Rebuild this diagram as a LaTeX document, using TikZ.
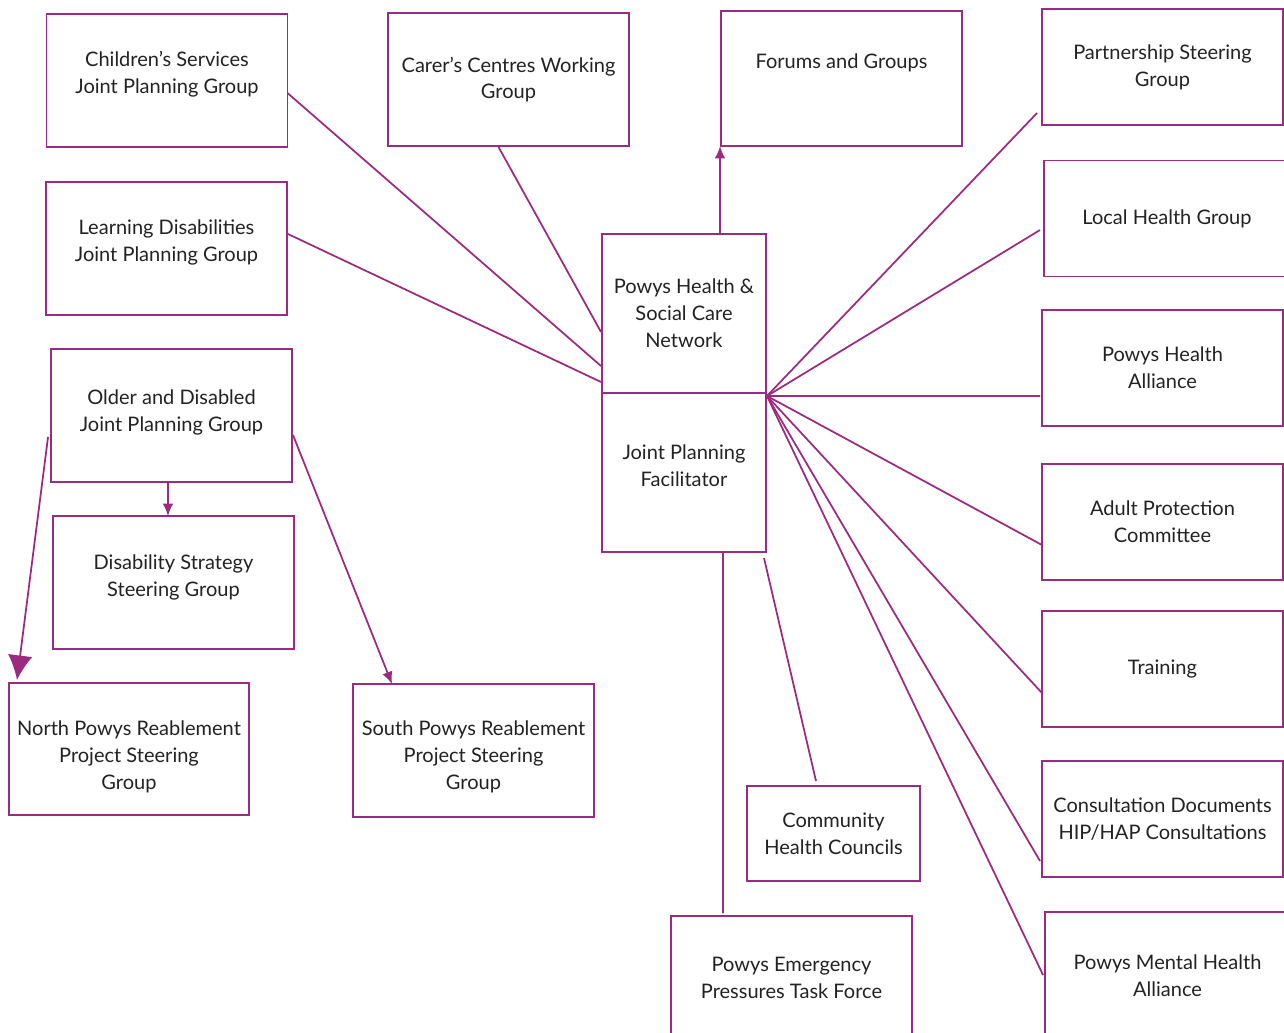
\documentclass[tikz,border=0pt]{standalone}
\usepackage{fontspec}
\setmainfont{Lato}
\usepackage{tikz}
\usetikzlibrary{arrows.meta,shapes,positioning,calc}

\definecolor{plum}{HTML}{9B2B80}
\definecolor{ink}{HTML}{222222}

\begin{document}
\begin{tikzpicture}[
        x=0.02cm, y=-0.02cm,
        every node/.style={font=\fontsize{11.4}{15.3}\selectfont, text=ink, align=center},
        box/.style={draw=plum, line width=1pt, inner sep=0pt, outer sep=0pt,
            minimum width=4.82cm, minimum height=2.66cm},
        sidebox/.style={box, minimum height=2.32cm},
        hubbox/.style={box, minimum width=3.28cm, minimum height=3.18cm},
        link/.style={draw=plum, line width=1pt},
        >={Latex[length=7pt,width=6pt]}
    ]
    \useasboundingbox (0,0) rectangle (1284,1032);

    % Nodes
    \node (child)[box, text depth=0.31cm] at (167,80.5) {Children's Services \\ Joint Planning Group};
    \node (carer)[box] at (508.5,79.5) {Carer's Centres Working \\ Group};
    \node (forum)[box, minimum height=2.7cm, text depth=0.69cm] at (841.5,78.5) {Forums and Groups};

    \node (learn)[box, text depth=0.31cm] at (166.5,248.5) {Learning Disabilities \\ Joint Planning Group};
    \node (older)[box, text depth=0.19cm] at (171.5,415.5) {Older and Disabled \\ Joint Planning Group};
    \node (disab)[box, text depth=0.27cm] at (173.5,582.5) {Disability Strategy \\ Steering Group};
    \node (north)[box, minimum width=4.8cm, minimum height=2.64cm, text height=1.69cm] at (129,749)
        {North Powys Reablement \\ Project Steering \\ Group};
    \node (south)[box, text height=1.61cm] at (473.5,750.5)
        {South Powys Reablement \\ Project Steering \\ Group};

    \node (net)[hubbox] at (684,313.5) {Powys Health \& \\ Social Care \\ Network};
    \node (fac)[hubbox, below=0pt of net, text depth=0.28cm] {Joint Planning \\ Facilitator};
    \node (chc)[box, minimum width=3.46cm, minimum height=1.9cm] at (833.5,833.5)
        {Community \\ Health Councils};
    \node (epf)[box, minimum height=2.48cm] at (791.5,978) {Powys Emergency \\ Pressures Task Force};

    \node (partner)[sidebox] at (1162.5,67) {Partnership Steering \\ Group};
    \node (local)[sidebox, minimum width=4.92cm] at (1167,218.5) {Local Health Group};
    \node (alliance)[sidebox] at (1162.5,368) {Powys Health \\ Alliance};
    \node (adult)[sidebox] at (1162.5,522) {Adult Protection \\ Committee};
    \node (train)[sidebox] at (1162.5,669) {Training};
    \node (consult)[sidebox] at (1162.5,819) {Consultation Documents \\ HIP/HAP Consultations};
    \node (mental)[sidebox, minimum width=4.9cm, minimum height=2.56cm] at (1167.5,976)
        {Powys Mental Health \\ Alliance};

    \coordinate (hub) at ($(fac.north east)+(1,3)$);

    % Edges
    \draw[link] ($(child.east)+(0,12.5)$) -- ($(net.west)+(-1,52.5)$);
    \draw[link] ($(carer.south)+(-10,1)$) -- ($(net.west)+(-1,18.5)$);
    \draw[link] ($(learn.east)+(1,-14.5)$) -- ($(net.west)+(-1,68.5)$);
    \draw[link,->] ($(net.north)+(36,0)$) -- ($(forum.south west)+(-1,0)$);

    \draw[link] (hub) -- ($(partner.west)+(-5,46)$);
    \draw[link] (hub) -- ($(local.west)+(-4,11.5)$);
    \draw[link] (hub) -- ($(alliance.west)+(-2,28)$);
    \draw[link] (hub) -- ($(adult.west)+(0,23)$);
    \draw[link] (hub) -- ($(train.west)+(0,24)$);
    \draw[link] (hub) -- ($(consult.west)+(-2,42)$);
    \draw[link] (hub) -- ($(mental.west)+(-2,-1)$);

    \draw[link] ($(fac.south east)+(-2,6)$) -- ($(chc.north)+(-17.5,-5)$);
    \draw[link] ($(fac.south)+(39,1)$) -- ($(epf.north west)+(52,-3)$);

    \draw[link,->] ($(older.south)+(-3.5,0)$) -- ($(disab.north)+(-5.5,0)$);
    \draw[link,-{Latex[length=14pt,width=14pt]}] ($(older.west)+(-3,21.5)$) -- ($(north.north west)+(8,-3)$);
    \draw[link,->] ($(older.east)+(1,19.5)$) -- ($(south.north west)+(39,0)$);

\end{tikzpicture}
\end{document}
